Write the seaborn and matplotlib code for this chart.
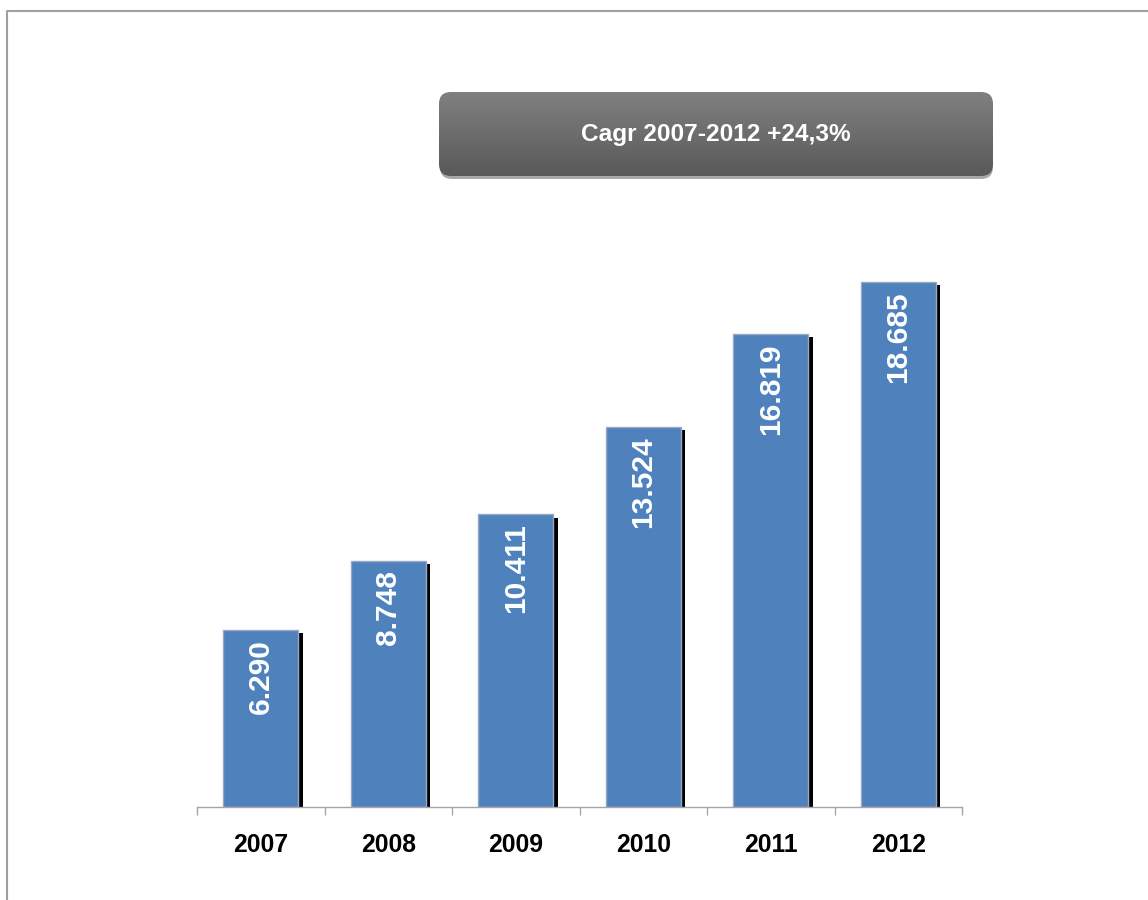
import matplotlib
matplotlib.use("Agg")
import matplotlib.pyplot as plt
import matplotlib.patheffects as pe
from matplotlib.lines import Line2D
from matplotlib.patches import FancyBboxPatch
import numpy as np
import pandas as pd
import seaborn as sns

# ---------------------------------------------------------------------------
# Data
# ---------------------------------------------------------------------------
years = ["2007", "2008", "2009", "2010", "2011", "2012"]
values = [6290, 8748, 10411, 13524, 16819, 18685]
cagr_label = "Cagr 2007-2012 +24,3%"

df = pd.DataFrame({"year": years, "value": values})

# ---------------------------------------------------------------------------
# Style
# ---------------------------------------------------------------------------
sns.set_theme(style="white")
plt.rcParams["font.family"] = ["Liberation Sans", "DejaVu Sans"]

W, H = 1148, 900
fig = plt.figure(figsize=(W / 100, H / 100), dpi=100)
fig.patch.set_facecolor("white")

# main axes, placed in pixel terms
ax_left, ax_right, ax_base, ax_top = 197, 962, 807, 100
ax = fig.add_axes([ax_left / W, 1 - ax_base / H,
                   (ax_right - ax_left) / W, (ax_base - ax_top) / H])

bar_color = "#4F81BD"
sns.barplot(data=df, x="year", y="value", color=bar_color, width=0.59,
            saturation=1, edgecolor="#9aa9bf", linewidth=1, ax=ax)

# black drop shadow behind each bar
for p in ax.patches:
    p.set_path_effects([
        pe.SimplePatchShadow(offset=(3.2, -2.2), shadow_rgbFace="black", alpha=1.0),
        pe.Normal(),
    ])

# value labels, rotated, white, inside top of bars
for i, v in enumerate(values):
    ax.annotate(f"{v:,}".replace(",", "."), xy=(i, v), xytext=(0, -6.5),
                textcoords="offset points", rotation=90, ha="center", va="top",
                color="white", fontsize=21.5, fontweight="bold")

# scale: 18685 -> 525 px
px_per_unit = 525 / 18685
ax.set_ylim(0, (ax_base - ax_top) / px_per_unit)
ax.set_xlim(-0.5, len(years) - 0.5)

for s in ["top", "right", "left"]:
    ax.spines[s].set_visible(False)
ax.spines["bottom"].set_color("#a6a6a6")
ax.spines["bottom"].set_linewidth(1)
ax.set_yticks([])
ax.set_xlabel("")
ax.set_ylabel("")
ax.set_xticks(np.arange(-0.5, len(years)), minor=True)
ax.tick_params(axis="x", which="minor", length=6, width=1, color="#a6a6a6",
               direction="out", bottom=True)
ax.tick_params(axis="x", which="major", length=0, pad=18.5, labelsize=17.8)
for t in ax.get_xticklabels():
    t.set_fontweight("bold")
    t.set_color("black")

# ---------------------------------------------------------------------------
# CAGR banner with vertical gradient
# ---------------------------------------------------------------------------
bx0, bx1, by0, by1 = 439, 993, 92, 176
bw, bh = bx1 - bx0, by1 - by0
ax_box = fig.add_axes([bx0 / W, 1 - by1 / H, bw / W, bh / H])
ax_box.set_xlim(0, bw)
ax_box.set_ylim(0, bh)
ax_box.axis("off")

shadow = FancyBboxPatch((1, -3), bw - 1, bh, boxstyle="round,pad=0,rounding_size=12",
                        facecolor="#a8a8a8", edgecolor="none", clip_on=False, zorder=0)
ax_box.add_patch(shadow)
box = FancyBboxPatch((0, 0), bw, bh, boxstyle="round,pad=0,rounding_size=12",
                     facecolor="none", edgecolor="none", clip_on=False, zorder=1)
ax_box.add_patch(box)
grad = np.linspace(0, 1, 256).reshape(-1, 1)
img = ax_box.imshow(grad, extent=(0, bw, 0, bh), aspect="auto", origin="lower",
                    cmap=matplotlib.colors.LinearSegmentedColormap.from_list(
                        "g", ["#595959", "#808080"]), zorder=1)
img.set_clip_path(box)
ax_box.text(bw / 2, bh / 2, cagr_label, ha="center", va="center",
            color="white", fontsize=17.6, fontweight="bold", zorder=2)

# outer frame (left and top lines)
fig.add_artist(Line2D([7 / W, 7 / W, 1], [0, 1 - 11 / H, 1 - 11 / H],
                      color="#a0a0a0", linewidth=1.5))

fig.savefig("out.png", dpi=100, facecolor="white")
